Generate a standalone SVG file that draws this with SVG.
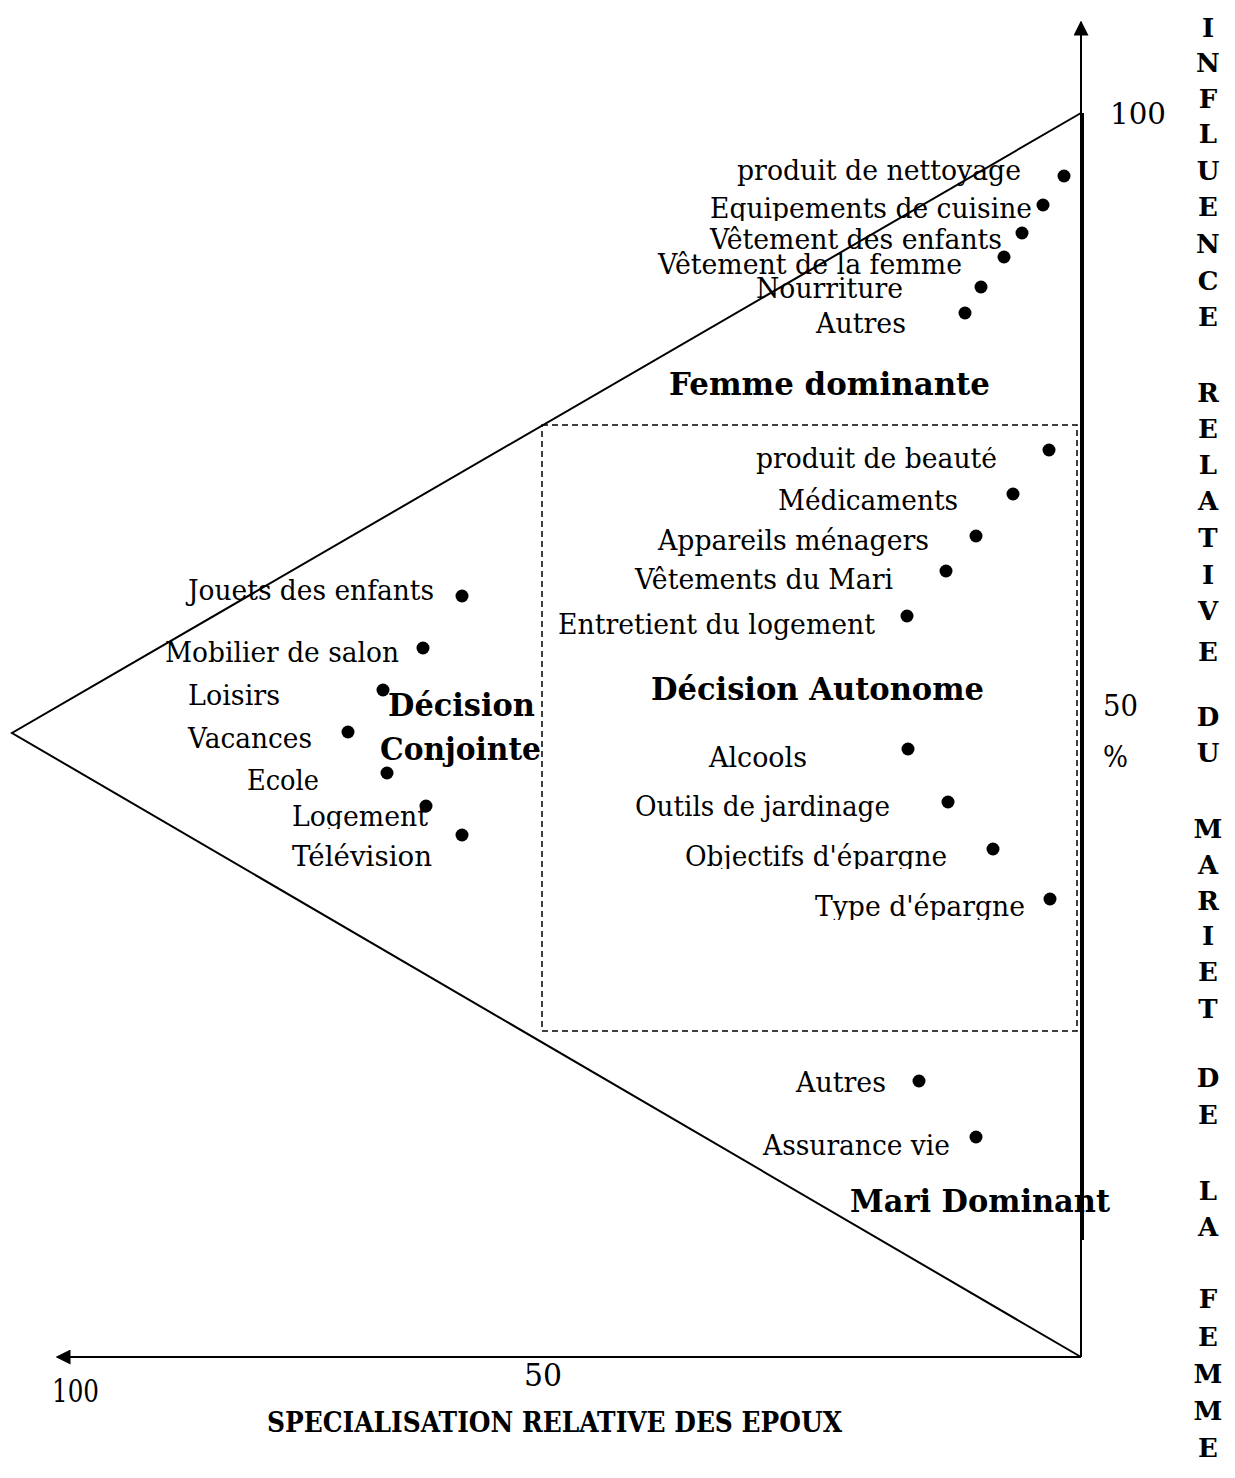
<svg xmlns="http://www.w3.org/2000/svg" width="1235" height="1478" viewBox="0 0 1235 1478">
<style>
.t{font-family:"DejaVu Serif","Liberation Serif",serif;font-size:28px;fill:#000}
.b{font-family:"DejaVu Serif","Liberation Serif",serif;font-size:32px;font-weight:bold;fill:#000}
.v{font-family:"DejaVu Serif","Liberation Serif",serif;font-size:26px;font-weight:bold;fill:#000;text-anchor:middle}
.ln{stroke:#000;stroke-width:2;fill:none}
.dot{fill:#000}
</style>
<defs>
<marker id="ah2" viewBox="0 0 10 10" refX="9" refY="5" markerWidth="15" markerHeight="15" orient="auto" markerUnits="userSpaceOnUse">
<path d="M0,0 L10,5 L0,10 z" fill="#000"/>
</marker>
<clipPath id="c1"><rect x="600" y="150" width="450" height="71"/></clipPath>
<clipPath id="c2"><rect x="700" y="447" width="320" height="40"/></clipPath>
<clipPath id="c3"><rect x="250" y="790" width="200" height="39"/></clipPath>
<clipPath id="c4"><rect x="650" y="830" width="330" height="39"/></clipPath>
<clipPath id="c5"><rect x="780" y="880" width="260" height="40"/></clipPath>
</defs>
<rect width="1235" height="1478" fill="#fff"/>
<g id="connectors">
<polyline class="ln" points="1081,113 12,733 1081,1357"/>
<line class="ln" x1="1081" y1="1357" x2="1081" y2="22" marker-end="url(#ah2)"/>
<line class="ln" x1="1083" y1="113" x2="1083" y2="1240"/>
<line class="ln" x1="1081" y1="1357" x2="57" y2="1357" marker-end="url(#ah2)"/>
<rect x="542" y="425" width="535" height="606" fill="none" stroke="#000" stroke-width="1.5" stroke-dasharray="6,4"/>
</g>
<g id="axis-labels">
<text class="t" style="font-size:30px" x="1110" y="124" textLength="56" lengthAdjust="spacingAndGlyphs">100</text>
<text class="t" style="font-size:30px" x="1103" y="716" textLength="35" lengthAdjust="spacingAndGlyphs">50</text>
<text class="t" style="font-size:30px" x="1103" y="767" textLength="25" lengthAdjust="spacingAndGlyphs">%</text>
<text class="t" style="font-size:32px" x="52" y="1402" textLength="47" lengthAdjust="spacingAndGlyphs">100</text>
<text class="t" style="font-size:32px" x="524" y="1386" textLength="38" lengthAdjust="spacingAndGlyphs">50</text>
<text class="b" style="font-size:27px" x="267" y="1432" textLength="575" lengthAdjust="spacingAndGlyphs">SPECIALISATION RELATIVE DES EPOUX</text>
</g>
<g id="vertical-title">
<text class="v" x="1208" y="37">I</text>
<text class="v" x="1208" y="72">N</text>
<text class="v" x="1208" y="108">F</text>
<text class="v" x="1208" y="143">L</text>
<text class="v" x="1208" y="180">U</text>
<text class="v" x="1208" y="216">E</text>
<text class="v" x="1208" y="253">N</text>
<text class="v" x="1208" y="290">C</text>
<text class="v" x="1208" y="326">E</text>
<text class="v" x="1208" y="402">R</text>
<text class="v" x="1208" y="438">E</text>
<text class="v" x="1208" y="474">L</text>
<text class="v" x="1208" y="510">A</text>
<text class="v" x="1208" y="547">T</text>
<text class="v" x="1208" y="584">I</text>
<text class="v" x="1208" y="620">V</text>
<text class="v" x="1208" y="661">E</text>
<text class="v" x="1208" y="726">D</text>
<text class="v" x="1208" y="762">U</text>
<text class="v" x="1208" y="838">M</text>
<text class="v" x="1208" y="874">A</text>
<text class="v" x="1208" y="910">R</text>
<text class="v" x="1208" y="945">I</text>
<text class="v" x="1208" y="981">E</text>
<text class="v" x="1208" y="1018">T</text>
<text class="v" x="1208" y="1087">D</text>
<text class="v" x="1208" y="1124">E</text>
<text class="v" x="1208" y="1200">L</text>
<text class="v" x="1208" y="1236">A</text>
<text class="v" x="1208" y="1308">F</text>
<text class="v" x="1208" y="1346">E</text>
<text class="v" x="1208" y="1383">M</text>
<text class="v" x="1208" y="1420">M</text>
<text class="v" x="1208" y="1457">E</text>
</g>
<g id="zone-femme">
<text class="b" x="669" y="395" textLength="321" lengthAdjust="spacingAndGlyphs">Femme dominante</text>
<g id="n-nettoyage"><text class="t" x="737" y="180" textLength="284" lengthAdjust="spacingAndGlyphs">produit de nettoyage</text><circle class="dot" cx="1064" cy="176" r="6.5"/></g>
<g id="n-cuisine"><text class="t" x="710" y="218" textLength="322" lengthAdjust="spacingAndGlyphs" clip-path="url(#c1)">Equipements de cuisine</text><circle class="dot" cx="1043" cy="205" r="6.5"/></g>
<g id="n-enfants"><text class="t" x="710" y="249" textLength="292" lengthAdjust="spacingAndGlyphs">Vêtement des enfants</text><circle class="dot" cx="1022" cy="233" r="6.5"/></g>
<g id="n-femme"><text class="t" x="658" y="274" textLength="304" lengthAdjust="spacingAndGlyphs">Vêtement de la femme</text><circle class="dot" cx="1004" cy="257" r="6.5"/></g>
<g id="n-nourriture"><text class="t" x="756" y="298" textLength="147" lengthAdjust="spacingAndGlyphs">Nourriture</text><circle class="dot" cx="981" cy="287" r="6.5"/></g>
<g id="n-autres1"><text class="t" x="816" y="333" textLength="90" lengthAdjust="spacingAndGlyphs">Autres</text><circle class="dot" cx="965" cy="313" r="6.5"/></g>
</g>
<g id="zone-autonome">
<text class="b" x="651" y="700" textLength="333" lengthAdjust="spacingAndGlyphs">Décision Autonome</text>
<g id="n-beaute"><text class="t" x="756" y="468" textLength="241" lengthAdjust="spacingAndGlyphs" clip-path="url(#c2)">produit de beauté</text><circle class="dot" cx="1049" cy="450" r="6.5"/></g>
<g id="n-medicaments"><text class="t" x="778" y="510" textLength="180" lengthAdjust="spacingAndGlyphs">Médicaments</text><circle class="dot" cx="1013" cy="494" r="6.5"/></g>
<g id="n-appareils"><text class="t" x="658" y="550" textLength="271" lengthAdjust="spacingAndGlyphs">Appareils ménagers</text><circle class="dot" cx="976" cy="536" r="6.5"/></g>
<g id="n-mari"><text class="t" x="635" y="589" textLength="258" lengthAdjust="spacingAndGlyphs">Vêtements du Mari</text><circle class="dot" cx="946" cy="571" r="6.5"/></g>
<g id="n-entretien"><text class="t" x="558" y="634" textLength="317" lengthAdjust="spacingAndGlyphs">Entretient du logement</text><circle class="dot" cx="907" cy="616" r="6.5"/></g>
<g id="n-alcools"><text class="t" x="709" y="767" textLength="98" lengthAdjust="spacingAndGlyphs">Alcools</text><circle class="dot" cx="908" cy="749" r="6.5"/></g>
<g id="n-outils"><text class="t" x="635" y="816" textLength="255" lengthAdjust="spacingAndGlyphs">Outils de jardinage</text><circle class="dot" cx="948" cy="802" r="6.5"/></g>
<g id="n-objectifs"><text class="t" x="685" y="866" textLength="262" lengthAdjust="spacingAndGlyphs" clip-path="url(#c4)">Objectifs d'épargne</text><circle class="dot" cx="993" cy="849" r="6.5"/></g>
<g id="n-type"><text class="t" x="815" y="916" textLength="210" lengthAdjust="spacingAndGlyphs" clip-path="url(#c5)">Type d'épargne</text><circle class="dot" cx="1050" cy="899" r="6.5"/></g>
</g>
<g id="zone-conjointe">
<text class="b" x="388" y="716" textLength="147" lengthAdjust="spacingAndGlyphs">Décision</text>
<text class="b" x="380" y="760" textLength="161" lengthAdjust="spacingAndGlyphs">Conjointe</text>
<g id="n-jouets"><text class="t" x="188" y="600" textLength="246" lengthAdjust="spacingAndGlyphs">Jouets des enfants</text><circle class="dot" cx="462" cy="596" r="6.5"/></g>
<g id="n-mobilier"><text class="t" x="165" y="662" textLength="234" lengthAdjust="spacingAndGlyphs">Mobilier de salon</text><circle class="dot" cx="423" cy="648" r="6.5"/></g>
<g id="n-loisirs"><text class="t" x="188" y="705" textLength="92" lengthAdjust="spacingAndGlyphs">Loisirs</text><circle class="dot" cx="383" cy="690" r="6.5"/></g>
<g id="n-vacances"><text class="t" x="188" y="748" textLength="124" lengthAdjust="spacingAndGlyphs">Vacances</text><circle class="dot" cx="348" cy="732" r="6.5"/></g>
<g id="n-ecole"><text class="t" x="247" y="790" textLength="72" lengthAdjust="spacingAndGlyphs">Ecole</text><circle class="dot" cx="387" cy="773" r="6.5"/></g>
<g id="n-logement"><text class="t" x="292" y="826" textLength="136" lengthAdjust="spacingAndGlyphs" clip-path="url(#c3)">Logement</text><circle class="dot" cx="426" cy="806" r="6.5"/></g>
<g id="n-television"><text class="t" x="292" y="866" textLength="140" lengthAdjust="spacingAndGlyphs">Télévision</text><circle class="dot" cx="462" cy="835" r="6.5"/></g>
</g>
<g id="zone-mari">
<g id="n-autres2"><text class="t" x="796" y="1092" textLength="90" lengthAdjust="spacingAndGlyphs">Autres</text><circle class="dot" cx="919" cy="1081" r="6.5"/></g>
<g id="n-assurance"><text class="t" x="763" y="1155" textLength="187" lengthAdjust="spacingAndGlyphs">Assurance vie</text><circle class="dot" cx="976" cy="1137" r="6.5"/></g>
<text class="b" x="850" y="1212" textLength="260" lengthAdjust="spacingAndGlyphs">Mari Dominant</text>
</g>
</svg>
